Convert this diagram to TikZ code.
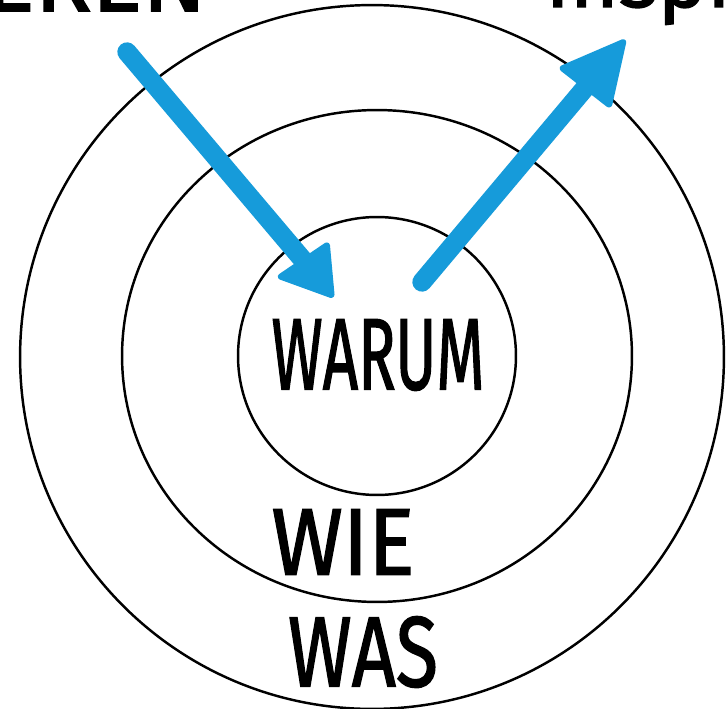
\documentclass[tikz,border=0pt]{standalone}
\usepackage{fontspec}
\setsansfont{Fira Sans}
\newfontfamily\handfont{Fira Sans}[FakeBold=1.6]
\usepackage{graphicx}
\definecolor{arrowblue}{RGB}{22,155,218}
\tikzset{
  ring/.style={draw=black, line width=1.4pt},
  shaft/.style={draw=arrowblue, line width=11pt, line cap=round},
  headtri/.style={fill=arrowblue, draw=arrowblue, line width=2pt, line join=round, rounded corners=1.5pt},
  label/.style={inner sep=0pt, font=\handfont},
}
\begin{document}
\begin{tikzpicture}[x=0.02cm, y=-0.02cm]
\useasboundingbox (0,0) rectangle (726,709);
\clip (0,0) rectangle (726,709);
\fill[white] (0,0) rectangle (726,709);
% rings
\draw[ring] (372,357) circle [radius=7.04cm];
\draw[ring] (377,356) ellipse [x radius=5.1cm, y radius=4.92cm];
\draw[ring] (377,356) circle [radius=2.78cm];
% labels
\node[label] (warum) at (378,355) {\resizebox{4.26cm}{1.4cm}{WARUM}};
\node[label] (wie) at (343,542) {\resizebox{2.86cm}{1.3cm}{WIE}};
\node[label] (was) at (363,652) {\resizebox{3.0cm}{1.4cm}{WAS}};
% cut-off top texts
\node[label, anchor=base east] (lefttext) at (207,11) {\resizebox{!}{1.3cm}{MANIPULIEREN}};
\node[label, anchor=base west] (righttext) at (545,7) {\resizebox{!}{1.3cm}{Inspirieren}};
% left arrow (inward)
\coordinate (a1s) at (127,52);
\coordinate (a1b) at (303,260);
\coordinate (a1t) at (333,297);
\coordinate (a1l) at (278,277);
\coordinate (a1r) at (328,243);
\draw[shaft] (a1s) -- (a1b);
\filldraw[headtri] (a1t) -- (a1l) -- (a1r) -- cycle;
% right arrow (outward)
\coordinate (a2s) at (422,282);
\coordinate (a2b) at (585,88);
\coordinate (a2t) at (625,40);
\coordinate (a2l) at (560,68);
\coordinate (a2r) at (610,107);
\draw[shaft] (a2s) -- (a2b);
\filldraw[headtri] (a2t) -- (a2l) -- (a2r) -- cycle;
\end{tikzpicture}
\end{document}
